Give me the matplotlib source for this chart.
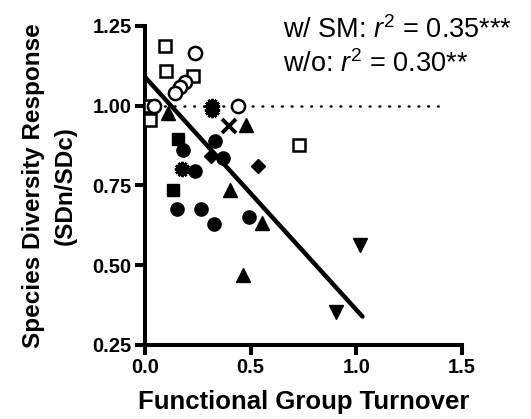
import numpy as np
import matplotlib
matplotlib.use("Agg")
import matplotlib.pyplot as plt

plt.rcParams['font.family'] = ['Liberation Sans', 'DejaVu Sans']
plt.rcParams['mathtext.fontset'] = 'custom'
plt.rcParams['mathtext.rm'] = 'Liberation Sans'
plt.rcParams['mathtext.it'] = 'Liberation Sans:italic'

# Functional group turnover (x) vs species diversity response (y), by marker group
open_square_x = [0.095, 0.100, 0.226, 0.022, 0.024, 0.730]
open_square_y = [1.188, 1.110, 1.092, 1.000, 0.956, 0.878]

open_circle_x = [0.237, 0.190, 0.166, 0.142, 0.042, 0.442]
open_circle_y = [1.165, 1.073, 1.058, 1.040, 1.000, 1.000]

filled_circle_x = [0.332, 0.370, 0.182, 0.237, 0.150, 0.264, 0.329, 0.490]
filled_circle_y = [0.888, 0.836, 0.862, 0.795, 0.675, 0.675, 0.630, 0.651]

filled_square_x = [0.155, 0.131]
filled_square_y = [0.894, 0.737]

triangle_x = [0.110, 0.479, 0.403, 0.556, 0.463]
triangle_y = [0.977, 0.940, 0.737, 0.633, 0.469]

down_triangle_x = [1.019, 0.904]
down_triangle_y = [0.562, 0.354]

diamond_x = [0.311, 0.537]
diamond_y = [0.843, 0.812]

asterisk_x = [0.316, 0.316, 0.174]
asterisk_y = [1.000, 0.985, 0.800]

cross_x = [0.400]
cross_y = [0.937]

# Regression fit
fit_intercept = 1.09
fit_slope = -0.73

x_ticks = [0.0, 0.5, 1.0, 1.5]
y_ticks = [0.25, 0.50, 0.75, 1.00, 1.25]

fig = plt.figure(figsize=(5.31, 4.19), dpi=100)
ax = fig.add_axes([0.273, 0.177, 0.597, 0.761])

ax.set_xlim(0, 1.5)
ax.set_ylim(0.25, 1.25)

# reference line at no change
ax.plot([0, 1.42], [1.0, 1.0], color='black', lw=1.8,
        linestyle=(0, (0.3, 3.6)), dash_capstyle='round', zorder=1)

all_x = (open_square_x + open_circle_x + filled_circle_x + filled_square_x +
         triangle_x + down_triangle_x + diamond_x + asterisk_x + cross_x)
fx = np.array([0.0, max(all_x) + 0.01])
ax.plot(fx, fit_intercept + fit_slope * fx, color='black', lw=3.2,
        solid_capstyle='round', zorder=3)

common = dict(linestyle='none', clip_on=False, zorder=4)
ax.plot(open_square_x, open_square_y, marker='s', ms=9, mfc='white',
        mec='black', mew=1.8, **common)
ax.plot(open_circle_x, open_circle_y, marker='o', ms=9.5, mfc='white',
        mec='black', mew=1.8, **common)
ax.plot(filled_circle_x, filled_circle_y, marker='o', ms=9.5, color='black', **common)
ax.plot(filled_square_x, filled_square_y, marker='s', ms=9, color='black', **common)
ax.plot(triangle_x, triangle_y, marker='^', ms=10, color='black', **common)
ax.plot(down_triangle_x, down_triangle_y, marker='v', ms=10, color='black', **common)
ax.plot(diamond_x, diamond_y, marker='D', ms=7, color='black', **common)
ax.plot(asterisk_x, asterisk_y, marker=(12, 2, 0), ms=11, color='black',
        mew=1.8, **common)
ax.plot(cross_x, cross_y, marker='x', ms=10, color='black', mew=2.8, **common)

for side in ('top', 'right'):
    ax.spines[side].set_visible(False)
for side in ('left', 'bottom'):
    ax.spines[side].set_linewidth(2.9)

ax.set_xticks(x_ticks)
ax.set_xticklabels([f"{v:.1f}" for v in x_ticks])
ax.set_yticks(y_ticks)
ax.set_yticklabels([f"{v:.2f}" for v in y_ticks])
ax.tick_params(axis='both', direction='out', length=7, width=2.9,
               labelsize=14.5, pad=2.5)
for lab in ax.get_xticklabels() + ax.get_yticklabels():
    lab.set_fontweight('bold')

ax.set_xlabel("Functional Group Turnover", fontsize=18.5, fontweight='bold',
              labelpad=9)
ax.set_ylabel("Species Diversity Response\n(SDn/SDc)", fontsize=17.5,
              fontweight='bold', labelpad=11, linespacing=1.5)

fig.text(0.533, 0.909, r"w/ SM: $r^2$ = 0.35***", fontsize=19.5,
         ha='left', va='baseline')
fig.text(0.533, 0.829, r"w/o: $r^2$ = 0.30**", fontsize=19.5,
         ha='left', va='baseline')

fig.savefig("out.png", dpi=100)
